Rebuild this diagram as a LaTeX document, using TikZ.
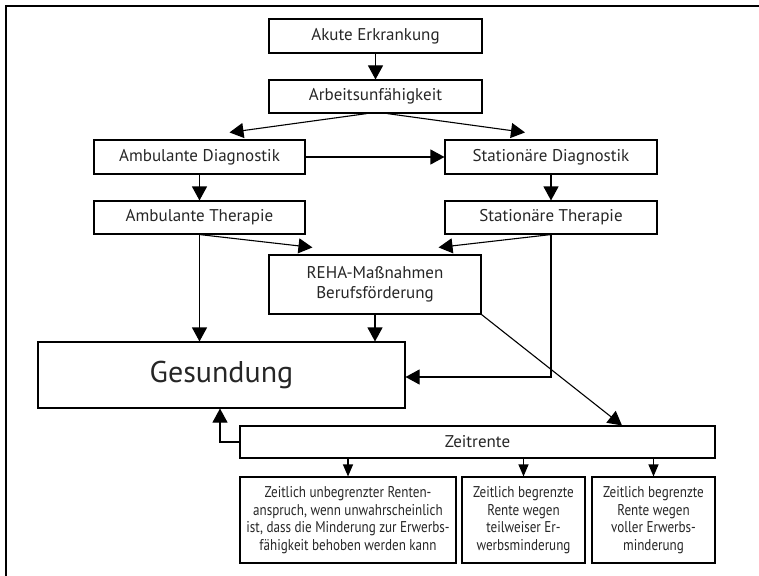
\documentclass[tikz,border=0pt]{standalone}
\usepackage{fontspec}
\setmainfont{PT Sans}
\newfontfamily\narrowfont[FakeStretch=0.84]{PT Sans}
\usetikzlibrary{arrows.meta,calc}
\begin{document}
\begin{tikzpicture}[x=1pt,y=-1pt,
  box/.style={draw,line width=1.1pt,inner sep=0pt,align=center,text=black!85,font=\fontsize{17}{20}\selectfont},
  rbox/.style={box,minimum height=86,font=\narrowfont\fontsize{15.6}{17.6}\selectfont},
  arr/.style={-{Triangle[length=14pt,width=15pt]},line width=1.1pt},
  arrs/.style={-{Triangle[length=12pt,width=10pt]},line width=1.1pt}]
\useasboundingbox(0,0)rectangle(759,575);
\begin{scope}
\clip(0,0)rectangle(759,575);
\draw[line width=1.1pt](6,6)rectangle(780,600);
\end{scope}
% Knoten
\node[box,minimum width=213,minimum height=34](akut)at(375.5,36){Akute Erkrankung};
\node[box,minimum width=213,minimum height=33](arbeit)at(375.5,96.5){Arbeitsunfähigkeit};
\node[box,minimum width=211,minimum height=34](ambdiag)at(199.5,157){Ambulante Diagnostik};
\node[box,minimum width=212,minimum height=34](statdiag)at(551,157){Stationäre Diagnostik};
\node[box,minimum width=211,minimum height=33](ambther)at(199.5,217.5){Ambulante Therapie};
\node[box,minimum width=212,minimum height=33](statther)at(551,217.5){Stationäre Therapie};
\node[box,minimum width=212,minimum height=59](reha)at(375,284.5){REHA-Maßnahmen\\Berufsförderung};
\node[box,minimum width=367,minimum height=66,font=\fontsize{30}{34}\selectfont](gesund)at(221.5,375){Gesundung};
\node[box,minimum width=475,minimum height=32](zeit)at(477.5,442){Zeitrente};
\node[rbox,minimum width=216](r1)at(348,520){Zeitlich unbegrenzter Renten-\\anspruch, wenn unwahrscheinlich\\ist, dass die Minderung zur Erwerbs-\\fähigkeit behoben werden kann};
\node[rbox,minimum width=123](r2)at(523.5,520){Zeitlich begrenzte\\Rente wegen\\teilweiser Er-\\werbsminderung};
\node[rbox,minimum width=123](r3)at(653.5,520){Zeitlich begrenzte\\Rente wegen\\voller Erwerbs-\\minderung};
% Pfeile
\draw[arr](akut)--(arbeit);
\draw[arr]($(arbeit.south)+(-8.5,0)$)--($(ambdiag.north)+(30,-7)$);
\draw[arr]($(arbeit.south)+(11.5,0)$)--($(statdiag.north)+(-26,-7)$);
\draw[arr](ambdiag.east)--(statdiag.west);
\draw[arr](ambdiag)--(ambther);
\draw[arr](statdiag)--(statther);
\draw[arr](ambther.south)--($(reha.north west)+(44,-7)$);
\draw[arr](statther.south)--($(reha.north east)+(-43,-7)$);
\draw[arr](ambther.south)--(ambther.south|-gesund.north);
\draw[arr](reha.south)--(reha.south|-gesund.north);
\draw[arr](statther.south)|-($(gesund.east)+(0,2)$);
\draw[arr](reha.south east)--($(zeit.north)+(144.5,0)$);
\draw[arr](zeit.west)-|($(gesund.south)+(-1.5,0)$);
\foreach \r in {r1,r2,r3}{\draw[arrs](\r.north|-zeit.south)--(\r.north);}
\end{tikzpicture}
\end{document}
